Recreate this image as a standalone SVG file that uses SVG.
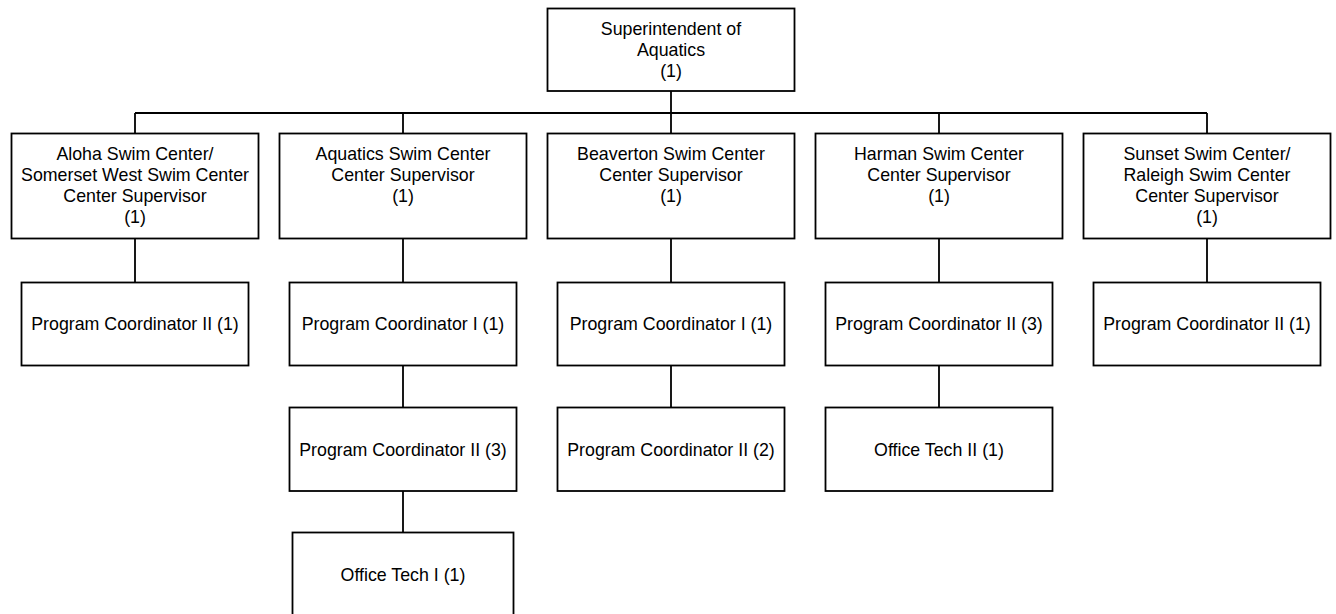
<svg xmlns="http://www.w3.org/2000/svg" width="1336" height="614" viewBox="0 0 1336 614">
<style>
.box{fill:#fff;stroke:#000;stroke-width:1.8}
.ln{fill:none;stroke:#000;stroke-width:1.8}
text{font-family:"Liberation Sans",Arial,sans-serif;font-size:17.8px;fill:#000;text-anchor:middle}
</style>
<rect width="1336" height="614" fill="#fff"/>
<g id="connectors">
<path class="ln" d="M671 91 V113 M135 113 H1207 M135 113 V133.5 M403 113 V133.5 M671 113 V133.5 M939 113 V133.5 M1207 113 V133.5"/>
<path class="ln" d="M135 238.5 V282.5 M403 238.5 V282.5 M671 238.5 V282.5 M939 238.5 V282.5 M1207 238.5 V282.5"/>
<path class="ln" d="M403 365.5 V407.5 M671 365.5 V407.5 M939 365.5 V407.5 M403 491 V532.5"/>
</g>
<g id="superintendent">
<rect class="box" x="547.5" y="8.5" width="247" height="82.5"/>
<text x="671" y="34.5">Superintendent of</text>
<text x="671" y="55.5">Aquatics</text>
<text x="671" y="76.5">(1)</text>
</g>
<g id="aloha">
<rect class="box" x="11.5" y="133.5" width="247" height="105"/>
<text x="135" y="159.5">Aloha Swim Center/</text>
<text x="135" y="180.5">Somerset West Swim Center</text>
<text x="135" y="201.5">Center Supervisor</text>
<text x="135" y="222.5">(1)</text>
</g>
<g id="aquatics">
<rect class="box" x="279.5" y="133.5" width="247" height="105"/>
<text x="403" y="159.5">Aquatics Swim Center</text>
<text x="403" y="180.5">Center Supervisor</text>
<text x="403" y="201.5">(1)</text>
</g>
<g id="beaverton">
<rect class="box" x="547.5" y="133.5" width="247" height="105"/>
<text x="671" y="159.5">Beaverton Swim Center</text>
<text x="671" y="180.5">Center Supervisor</text>
<text x="671" y="201.5">(1)</text>
</g>
<g id="harman">
<rect class="box" x="815.5" y="133.5" width="247" height="105"/>
<text x="939" y="159.5">Harman Swim Center</text>
<text x="939" y="180.5">Center Supervisor</text>
<text x="939" y="201.5">(1)</text>
</g>
<g id="sunset">
<rect class="box" x="1083.5" y="133.5" width="247" height="105"/>
<text x="1207" y="159.5">Sunset Swim Center/</text>
<text x="1207" y="180.5">Raleigh Swim Center</text>
<text x="1207" y="201.5">Center Supervisor</text>
<text x="1207" y="222.5">(1)</text>
</g>
<g id="aloha-pc2">
<rect class="box" x="21.5" y="282.5" width="227" height="83"/>
<text x="135" y="330">Program Coordinator II (1)</text>
</g>
<g id="aquatics-pc1">
<rect class="box" x="289.5" y="282.5" width="227" height="83"/>
<text x="403" y="330">Program Coordinator I (1)</text>
</g>
<g id="beaverton-pc1">
<rect class="box" x="557.5" y="282.5" width="227" height="83"/>
<text x="671" y="330">Program Coordinator I (1)</text>
</g>
<g id="harman-pc2">
<rect class="box" x="825.5" y="282.5" width="227" height="83"/>
<text x="939" y="330">Program Coordinator II (3)</text>
</g>
<g id="sunset-pc2">
<rect class="box" x="1093.5" y="282.5" width="227" height="83"/>
<text x="1207" y="330">Program Coordinator II (1)</text>
</g>
<g id="aquatics-pc2">
<rect class="box" x="289.5" y="407.5" width="227" height="83.5"/>
<text x="403" y="455.5">Program Coordinator II (3)</text>
</g>
<g id="beaverton-pc2">
<rect class="box" x="557.5" y="407.5" width="227" height="83.5"/>
<text x="671" y="455.5">Program Coordinator II (2)</text>
</g>
<g id="harman-ot2">
<rect class="box" x="825.5" y="407.5" width="227" height="83.5"/>
<text x="939" y="455.5">Office Tech II (1)</text>
</g>
<g id="aquatics-ot1">
<rect class="box" x="292.5" y="532.5" width="221" height="84"/>
<text x="403" y="580.5">Office Tech I (1)</text>
</g>
</svg>
